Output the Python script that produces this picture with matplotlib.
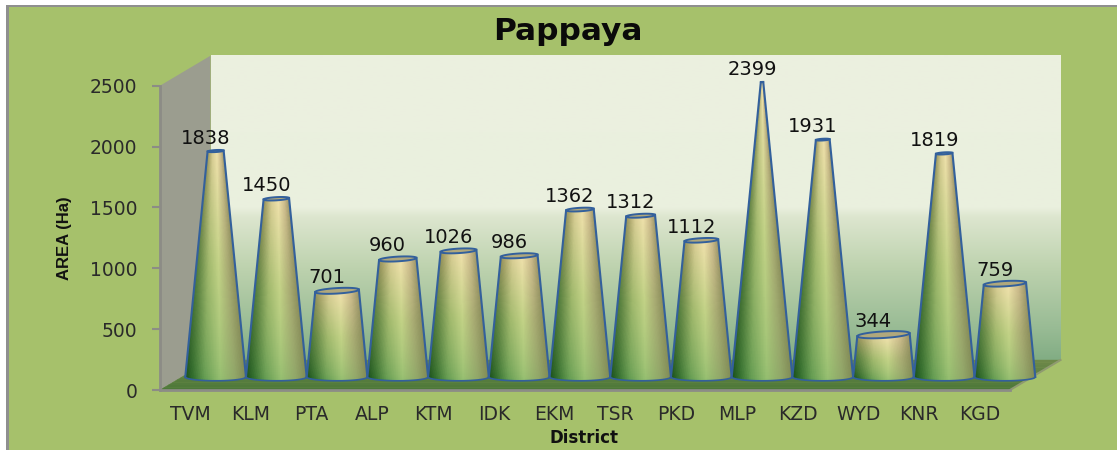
import numpy as np
import matplotlib
matplotlib.use("Agg")
import matplotlib.pyplot as plt
from matplotlib.patches import Polygon

districts = ["TVM","KLM","PTA","ALP","KTM","IDK","EKM","TSR","PKD","MLP","KZD","WYD","KNR","KGD"]
area = [1838,1450,701,960,1026,986,1362,1312,1112,2399,1931,344,1819,759]
yticks = [0,500,1000,1500,2000,2500]

W, H = 1117, 450
BG = "#a6c16b"
fig = plt.figure(figsize=(W/100, H/100), dpi=100, facecolor=BG)
L, R, T, B = 160, 1010, 85.7, 390
ax = fig.add_axes([L/W, 1-B/H, (R-L)/W, (B-T)/H])
ax.patch.set_visible(False)

px_x = (R-L)/len(districts)
px_y = (B-T)/2500
def X(p): return p/px_x
def Y(p): return p/px_y
DX, DY = X(50.5), Y(30)
x0, x1 = -0.5, len(districts)-0.5

def hexs(s):
    return np.array(matplotlib.colors.to_rgb(s))

# back wall with vertical gradient
stops_t = np.array([0.0,0.10,0.30,0.47,0.50,1.0])
stops_c = np.array([hexs(c) for c in ["#82ad84","#98bb94","#bdd2ae","#dde6cf","#eaf0de","#ecf0e0"]])
tt = np.linspace(0,1,200)
grad = np.stack([np.interp(tt, stops_t, stops_c[:,i]) for i in range(3)],axis=1)[::-1][:,None,:]
ax.imshow(grad, extent=[x0+DX, x1+DX, DY, 2500+DY], aspect="auto", origin="upper", zorder=1, clip_on=False, interpolation="bilinear")

# side wall
ax.add_patch(Polygon([(x0,0),(x0+DX,DY),(x0+DX,2500+DY),(x0,2500)], fc="#9b9d8f", ec="none", zorder=2, clip_on=False))
# floor with front-to-back shading
fs = np.linspace(0,1,13)
fa, fb = hexs("#4d7839"), hexs("#70894a")
for s0, s1 in zip(fs[:-1], fs[1:]):
    ax.add_patch(Polygon([(x0+DX*s0,DY*s0),(x1+DX*s0,DY*s0),(x1+DX*s1,DY*s1),(x0+DX*s1,DY*s1)],
                         fc=fa+(fb-fa)*s0, ec=fa+(fb-fa)*s0, lw=0.3, zorder=3, clip_on=False))
ax.plot([x1,x1+DX],[0,DY],color="#8f9a70",lw=1.5,zorder=3,clip_on=False)

# cones
u_stops = np.array([0,0.12,0.32,0.58,0.82,1.0])
bot = np.array([hexs(c) for c in ["#164c18","#2c6a2a","#609a50","#92bd6e","#8ea667","#7f8a55"]])
mid = np.array([hexs(c) for c in ["#4c7a3a","#6c8e4a","#a0b86c","#c2d286","#a8aa72","#8a8c5a"]])
top = np.array([hexs(c) for c in ["#958f5a","#aea66c","#d8cd94","#eee0aa","#cdbb8c","#9a9466"]])
OUT = "#33609c"
BASE_PX = 13   # base centre above the front edge of floor, px
SCALE = 1.01
for i, v in enumerate(area):
    c = i + DX/2
    hw0 = 0.5
    ug = np.linspace(0, 1, 91)
    th = np.arcsin(2*ug-1)
    t = np.linspace(0, 1, 101)
    TH, TT = np.meshgrid(th, t)
    hw = hw0*(1 - TT*v/2500)
    u = (np.sin(TH)+1)/2
    xs = c + hw*np.sin(TH)
    minor = Y(3.8)*hw/hw0
    tilt = Y(3.5)/hw0*0.5*TT
    ys = Y(BASE_PX) + TT*v*SCALE - minor*np.cos(TH) + tilt*(xs-c)
    uc = (u[:-1,:-1]+u[1:,1:])/2
    tc = (TT[:-1,:-1]+TT[1:,1:])/2
    rgb = np.zeros(uc.shape+(3,))
    for k in range(3):
        b = np.interp(uc,u_stops,bot[:,k])
        m = np.interp(uc,u_stops,mid[:,k])
        a = np.interp(uc,u_stops,top[:,k])
        low = np.clip(tc*2, 0, 1)**0.7
        rgb[...,k] = np.where(tc<0.5, b+(m-b)*low, m+(a-m)*(tc-0.5)*2)
    z = 10+i*0.01
    ax.pcolormesh(xs, ys, rgb, shading="flat", zorder=z, clip_on=False, antialiased=False, edgecolors="none")
    hwt = hw0*(1-v/2500)
    ang = np.linspace(0,2*np.pi,81)
    ex = c + hwt*np.sin(ang)
    ey = Y(BASE_PX)+v*SCALE - Y(3.8)*hwt/hw0*np.cos(ang) + Y(3.5)/hw0*0.5*(ex-c)
    ax.fill(ex, ey, fc="#b0a87c", ec=OUT, lw=1.4, zorder=z+0.002, clip_on=False)
    ax.plot(xs[:,0], ys[:,0], color=OUT, lw=1.5, zorder=z+0.001, clip_on=False)
    ax.plot(xs[:,-1], ys[:,-1], color=OUT, lw=1.5, zorder=z+0.001, clip_on=False)
    ax.plot(xs[0,:], ys[0,:], color=OUT, lw=1.2, zorder=z+0.001, clip_on=False)
    ax.annotate(str(v), (c, Y(BASE_PX)+v*SCALE), xytext=(-10,13), textcoords="offset pixels",
                ha="center", va="center", fontsize=14, color="#111111", zorder=30, annotation_clip=False)

ax.set_xlim(x0,x1); ax.set_ylim(0,2500)
ax.set_xticks(range(len(districts)))
ax.set_xticklabels(districts, fontsize=13.5, color="#2a2a2a")
ax.set_yticks(yticks)
ax.set_yticklabels([str(v) for v in yticks], fontsize=13.5, color="#2a2a2a")
ax.tick_params(axis="x", length=0, pad=11)
ax.tick_params(axis="y", length=5.8, width=1.5, color="#8c8c86", pad=10.5)
for s in ["top","right"]:
    ax.spines[s].set_visible(False)
for s in ["left","bottom"]:
    ax.spines[s].set_color("#8c8c86"); ax.spines[s].set_linewidth(2); ax.spines[s].set_zorder(4)

fig.text(568/W, 1-40/H, "Pappaya", ha="center", va="baseline", fontsize=22.5, fontweight="bold", color="#0a0a0a")
fig.text(584/W, 1-438/H, "District", ha="center", va="center", fontsize=12, fontweight="bold", color="#111111")
fig.text(65/W, 1-238/H, "AREA (Ha)", ha="center", va="center", rotation=90, fontsize=12, fontweight="bold",
         family="Liberation Sans", color="#111111")

# outer frame
fig.add_artist(plt.Rectangle((0,0), 6/W, 1, transform=fig.transFigure, fc="white", ec="none"))
fig.add_artist(plt.Rectangle((0,1-5/H), 1, 5/H, transform=fig.transFigure, fc="white", ec="none"))
fig.add_artist(plt.Rectangle((6/W,0), 3/W, 1-5/H, transform=fig.transFigure, fc="#8f8f8f", ec="none"))
fig.add_artist(plt.Rectangle((6/W,1-6.5/H), 1-6/W, 1.5/H, transform=fig.transFigure, fc="#8f8f8f", ec="none"))
fig.savefig("out.png", dpi=100, facecolor=BG)
